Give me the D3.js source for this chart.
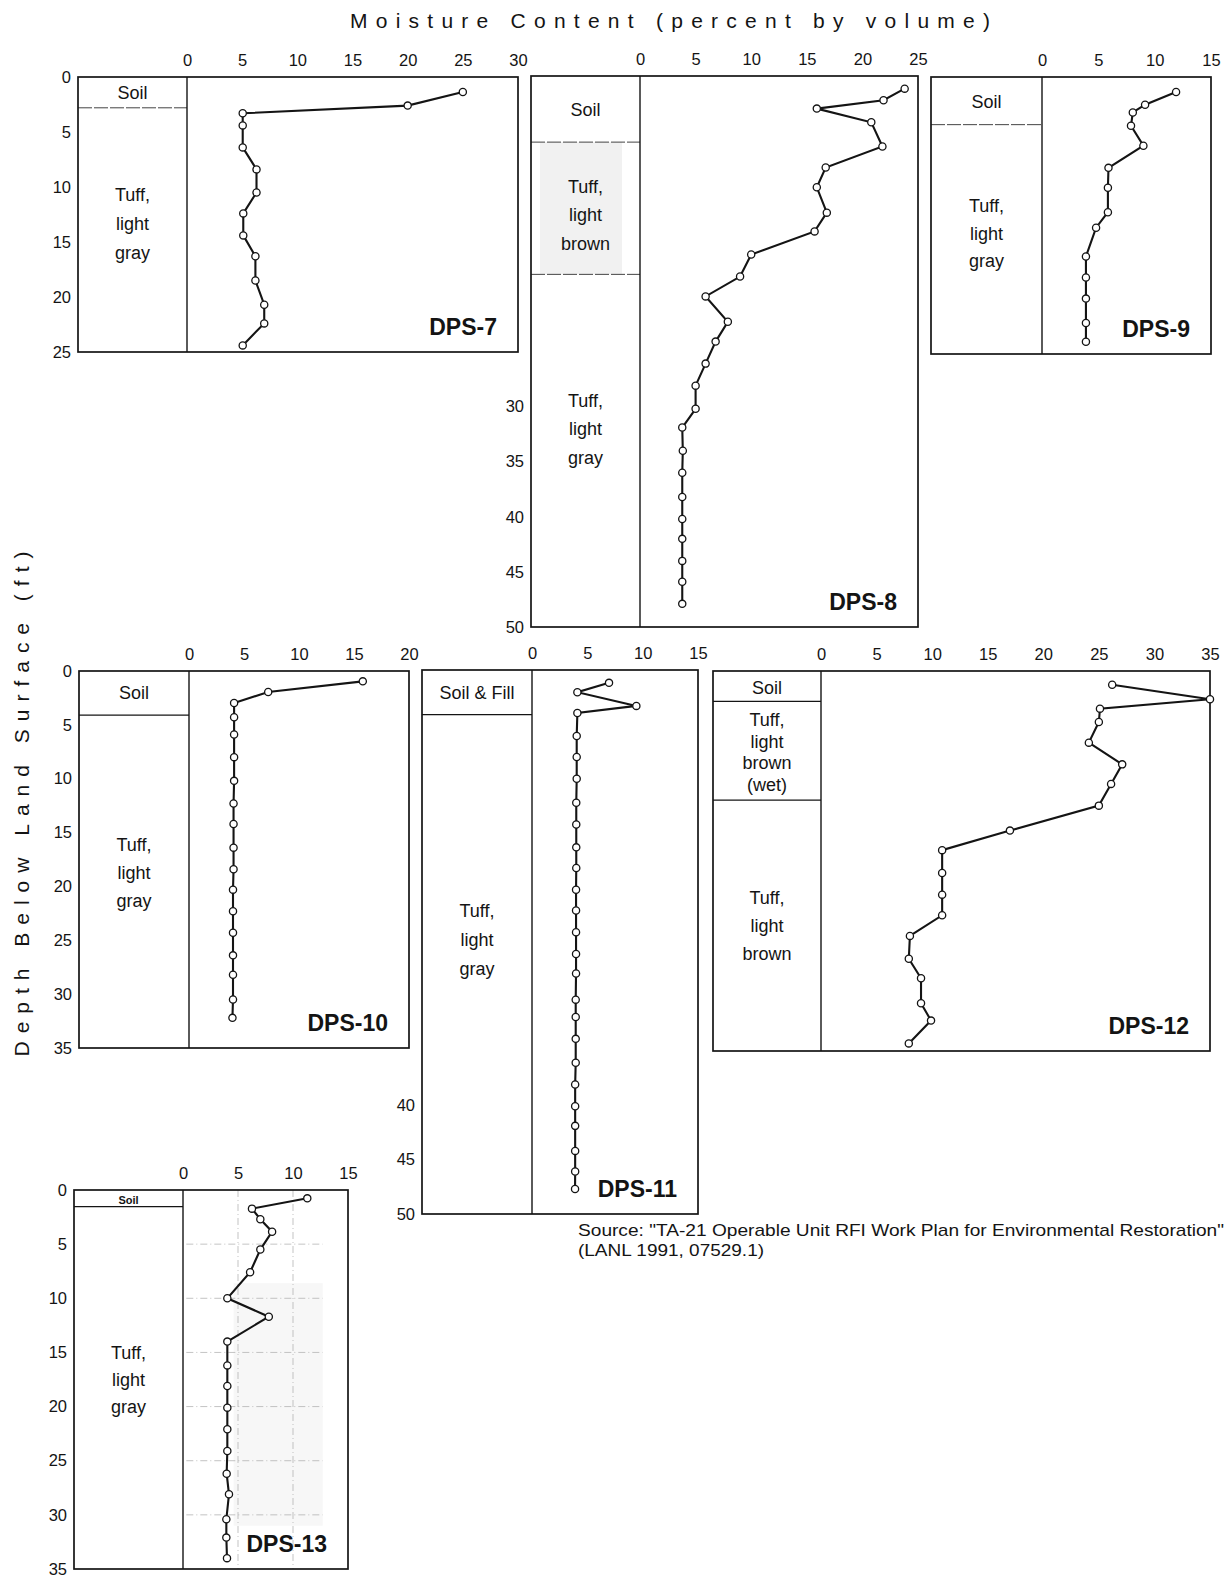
<!DOCTYPE html>
<html>
<head>
<meta charset="utf-8">
<script src="https://cdn.jsdelivr.net/npm/d3@7"></script>
<style>
	body { margin: 0; background: #fff; }
	svg { display: block; font-family: "Liberation Sans", Arial, sans-serif; }
</style>
</head>
<body>
<div id="chart"></div>
<script>
///////////////////////////////////////////////////////////////////////////
//////////////////////////// data /////////////////////////////////////////
///////////////////////////////////////////////////////////////////////////

const boreholes = ["DPS-7", "DPS-8", "DPS-9", "DPS-10", "DPS-11", "DPS-12", "DPS-13"];

// moisture (percent by volume) against depth (ft)
const dps7Depth = [1.36, 2.6, 3.3, 4.4, 6.4, 8.4, 10.5, 12.4, 14.4, 16.3, 18.5, 20.7, 22.4, 24.4];
const dps7Moisture = [25.0, 20.0, 5.05, 5.05, 5.05, 6.3, 6.3, 5.1, 5.1, 6.2, 6.2, 7.0, 7.0, 5.05];

const dps8Depth = [1.15, 2.2, 2.96, 4.2, 6.4, 8.3, 10.1, 12.4, 14.1, 16.2, 18.2, 20.0, 22.3, 24.1, 26.1, 28.1, 30.2, 31.9, 34.0, 36.0, 38.2, 40.2, 42.0, 44.0, 45.9, 47.9];
const dps8Moisture = [23.8, 21.9, 15.9, 20.8, 21.8, 16.7, 15.9, 16.8, 15.7, 10.0, 9.0, 5.9, 7.9, 6.8, 5.9, 5.0, 5.0, 3.8, 3.85, 3.8, 3.8, 3.8, 3.8, 3.8, 3.8, 3.8];

const dps9Depth = [1.35, 2.5, 3.2, 4.4, 6.2, 8.2, 10.0, 12.2, 13.6, 16.2, 18.1, 20.0, 22.2, 23.9];
const dps9Moisture = [11.9, 9.15, 8.06, 7.9, 9.0, 5.9, 5.85, 5.85, 4.8, 3.9, 3.9, 3.9, 3.9, 3.9];

const dps10Depth = [0.96, 1.95, 2.97, 4.3, 5.9, 8.0, 10.2, 12.3, 14.2, 16.4, 18.4, 20.3, 22.3, 24.3, 26.4, 28.2, 30.5, 32.2];
const dps10Moisture = [15.8, 7.2, 4.1, 4.1, 4.1, 4.1, 4.1, 4.05, 4.05, 4.05, 4.05, 4.0, 4.0, 4.0, 4.0, 4.0, 4.0, 3.95];

const dps11Depth = [1.18, 2.04, 3.3, 3.95, 6.06, 8.0, 10.0, 12.2, 14.2, 16.3, 18.2, 20.2, 22.1, 24.1, 26.1, 27.9, 30.3, 31.9, 33.9, 36.1, 38.1, 40.1, 41.9, 44.2, 46.1, 47.7];
const dps11Moisture = [6.96, 4.1, 9.43, 4.1, 4.04, 4.04, 4.04, 4.0, 4.0, 4.0, 4.0, 3.98, 3.98, 3.98, 3.98, 3.98, 3.95, 3.95, 3.95, 3.95, 3.9, 3.9, 3.9, 3.9, 3.9, 3.89];

const dps12Depth = [1.26, 2.6, 3.47, 4.7, 6.6, 8.6, 10.4, 12.4, 14.7, 16.5, 18.6, 20.6, 22.5, 24.4, 26.5, 28.3, 30.6, 32.2, 34.3];
const dps12Moisture = [26.2, 35.0, 25.1, 25.0, 24.1, 27.1, 26.1, 25.0, 17.0, 10.9, 10.9, 10.9, 10.9, 8.0, 7.9, 9.0, 9.0, 9.9, 7.9];

const dps13Depth = [0.77, 1.72, 2.7, 3.85, 5.5, 7.6, 10.0, 11.7, 14.0, 16.2, 18.1, 20.1, 22.1, 24.1, 26.2, 28.1, 30.4, 32.1, 34.0];
const dps13Moisture = [11.3, 6.27, 7.03, 8.1, 7.03, 6.1, 4.03, 7.8, 4.03, 4.03, 4.03, 4.03, 4.03, 4.03, 3.97, 4.18, 3.94, 3.94, 4.0];

// axis extents (percent, ft)
const moistureMax = [30, 25, 15, 20, 15, 35, 15];
const depthMax = [25, 50, 25, 35, 50, 35, 35];
const depthTicks = [
	[0, 5, 10, 15, 20, 25],
	[30, 35, 40, 45, 50],
	[],
	[0, 5, 10, 15, 20, 25, 30, 35],
	[40, 45, 50],
	[],
	[0, 5, 10, 15, 20, 25, 30, 35]
];

// lithology: [top, bottom] in ft + description
const dps7Layers = [[0, 2.8, ["Soil"]], [2.8, 25, ["Tuff,", "light", "gray"]]];
const dps8Layers = [[0, 6, ["Soil"]], [6, 18, ["Tuff,", "light", "brown"]], [18, 50, ["Tuff,", "light", "gray"]]];
const dps9Layers = [[0, 4.3, ["Soil"]], [4.3, 25, ["Tuff,", "light", "gray"]]];
const dps10Layers = [[0, 4.1, ["Soil"]], [4.1, 35, ["Tuff,", "light", "gray"]]];
const dps11Layers = [[0, 4.1, ["Soil & Fill"]], [4.1, 50, ["Tuff,", "light", "gray"]]];
const dps12Layers = [[0, 2.8, ["Soil"]], [2.8, 11.9, ["Tuff,", "light", "brown", "(wet)"]], [11.9, 35, ["Tuff,", "light", "brown"]]];
const dps13Layers = [[0, 1.54, ["Soil"]], [1.54, 35, ["Tuff,", "light", "gray"]]];

const depths = [dps7Depth, dps8Depth, dps9Depth, dps10Depth, dps11Depth, dps12Depth, dps13Depth];
const moistures = [dps7Moisture, dps8Moisture, dps9Moisture, dps10Moisture, dps11Moisture, dps12Moisture, dps13Moisture];
const layers = [dps7Layers, dps8Layers, dps9Layers, dps10Layers, dps11Layers, dps12Layers, dps13Layers];

///////////////////////////////////////////////////////////////////////////
//////////////////////////// layout ///////////////////////////////////////
///////////////////////////////////////////////////////////////////////////

// box: left edge, lithology divider (= 0 %), right edge, top (0 ft), bottom
// labelAt: depth of the middle text line per layer, gap: line spacing px
const layout = [
	{ box: [78, 187, 518, 77, 352], labelAt: [1.39, 13.3], gap: [0, 29] },
	{ box: [531, 640, 918, 76, 627], labelAt: [3.07, 12.6, 32.0], gap: [0, 28.5, 28.5], shade: 1 },
	{ box: [931, 1042, 1211, 77, 354], labelAt: [2.25, 14.1], gap: [0, 27.5] },
	{ box: [79, 189, 409, 671, 1048], labelAt: [2.04, 18.7], gap: [0, 28] },
	{ box: [422, 532, 698, 670, 1214], labelAt: [2.04, 24.8], gap: [0, 29] },
	{ box: [713, 821, 1210, 671, 1051], labelAt: [1.5, 7.46, 23.4], gap: [0, 21.5, 28] },
	{ box: [74, 183, 348, 1190, 1569], labelAt: [0.9, 17.5], gap: [0, 27], smallSoil: true, grid: true }
];

const width = 1230;
const height = 1583;
const ink = "#141414";

const svg = d3
	.select("#chart")
	.append("svg")
	.attr("width", width)
	.attr("height", height);

///////////////////////////////////////////////////////////////////////////
//////////////////////////// panels ///////////////////////////////////////
///////////////////////////////////////////////////////////////////////////

boreholes.forEach((name, i) => {
	const [x0, xd, x1, y0, y1] = layout[i].box;
	const L = layout[i];

	const xScale = d3.scaleLinear().domain([0, moistureMax[i]]).range([xd, x1]);
	const yScale = d3.scaleLinear().domain([0, depthMax[i]]).range([y0, y1]);

	const g = svg.append("g").attr("class", "panel");

	// light shading of the brown tuff in DPS-8
	if (L.shade) {
		const lay = layers[i][L.shade];
		g.append("rect")
			.attr("x", x0 + 9)
			.attr("y", yScale(lay[0]))
			.attr("width", xd - x0 - 27)
			.attr("height", yScale(lay[1]) - yScale(lay[0]))
			.attr("fill", "#f1f1f1");
	}

	// faint grid seen on DPS-13
	if (L.grid) {
		g.append("rect")
			.attr("x", xScale(4.6))
			.attr("y", yScale(8.6))
			.attr("width", xScale(12.7) - xScale(4.6))
			.attr("height", yScale(31) - yScale(8.6))
			.attr("fill", "#f7f7f7");
		g.selectAll(".vgrid")
			.data([5, 10])
			.enter()
			.append("line")
			.attr("x1", (d) => xScale(d))
			.attr("x2", (d) => xScale(d))
			.attr("y1", y0)
			.attr("y2", y1)
			.attr("stroke", "#b4b4b4")
			.attr("stroke-width", 0.8)
			.attr("stroke-dasharray", "7,3,1,3");
		g.selectAll(".hgrid")
			.data([5, 10, 15, 20, 25, 30])
			.enter()
			.append("line")
			.attr("x1", xScale(0.3))
			.attr("x2", xScale(12.7))
			.attr("y1", (d) => yScale(d))
			.attr("y2", (d) => yScale(d))
			.attr("stroke", "#b4b4b4")
			.attr("stroke-width", 0.8)
			.attr("stroke-dasharray", "7,3,1,3");
	}

	// layer boundaries
	g.selectAll(".boundary")
		.data(layers[i].slice(1))
		.enter()
		.append("line")
		.attr("x1", x0)
		.attr("x2", xd)
		.attr("y1", (d) => yScale(d[0]))
		.attr("y2", (d) => yScale(d[0]))
		.attr("stroke", i < 3 ? "#444" : ink)
		.attr("stroke-width", i < 3 ? 1 : 1.3)
		.attr("stroke-dasharray", i < 3 ? "14,2" : null);

	// lithology text
	layers[i].forEach((lay, k) => {
		const n = lay[2].length;
		const small = L.smallSoil && k === 0;
		g.selectAll(null)
			.data(lay[2])
			.enter()
			.append("text")
			.attr("x", (x0 + xd) / 2)
			.attr("y", (d, j) => yScale(L.labelAt[k]) + (j - (n - 1) / 2) * L.gap[k])
			.attr("dy", "0.36em")
			.attr("text-anchor", "middle")
			.attr("font-size", small ? 11 : 18)
			.attr("font-weight", small ? "bold" : null)
			.attr("fill", ink)
			.text((d) => d);
	});

	// frame
	g.append("rect")
		.attr("x", x0)
		.attr("y", y0)
		.attr("width", x1 - x0)
		.attr("height", y1 - y0)
		.attr("fill", "none")
		.attr("stroke", ink)
		.attr("stroke-width", 1.7);

	g.append("line")
		.attr("x1", xd)
		.attr("x2", xd)
		.attr("y1", y0)
		.attr("y2", y1)
		.attr("stroke", ink)
		.attr("stroke-width", 1.4);

	// axes
	const xAxis = d3
		.axisTop(xScale)
		.tickValues(d3.range(0, moistureMax[i] + 1, 5))
		.tickSize(0)
		.tickPadding(11);

	g.append("g")
		.attr("transform", `translate(0,${y0})`)
		.call(xAxis)
		.call((a) => a.select(".domain").remove())
		.selectAll("text")
		.attr("font-size", 16.5)
		.attr("font-family", "Liberation Sans, Arial, sans-serif")
		.attr("fill", ink);

	if (depthTicks[i].length) {
		const yAxis = d3.axisLeft(yScale).tickValues(depthTicks[i]).tickSize(0).tickPadding(7);
		g.append("g")
			.attr("transform", `translate(${x0},0)`)
			.call(yAxis)
			.call((a) => a.select(".domain").remove())
			.selectAll("text")
			.attr("font-size", 16.5)
			.attr("font-family", "Liberation Sans, Arial, sans-serif")
			.attr("fill", ink);
	}

	// profile
	const pts = depths[i].map((d, j) => ({ depth: d, m: moistures[i][j] }));

	const line = d3
		.line()
		.x((d) => xScale(d.m))
		.y((d) => yScale(d.depth));

	g.append("path")
		.datum(pts)
		.attr("d", line)
		.attr("fill", "none")
		.attr("stroke", ink)
		.attr("stroke-width", 2.1);

	g.selectAll(".dots")
		.data(pts)
		.enter()
		.append("circle")
		.attr("cx", (d) => xScale(d.m))
		.attr("cy", (d) => yScale(d.depth))
		.attr("r", 3.6)
		.attr("fill", "#fff")
		.attr("stroke", ink)
		.attr("stroke-width", 1.3);

	// borehole name
	g.append("text")
		.attr("x", x1 - 21)
		.attr("y", y1 - 17)
		.attr("text-anchor", "end")
		.attr("font-size", 23)
		.attr("font-weight", "bold")
		.attr("fill", ink)
		.text(name);
});

///////////////////////////////////////////////////////////////////////////
//////////////////////////// titles ///////////////////////////////////////
///////////////////////////////////////////////////////////////////////////

svg.append("text")
	.attr("x", 350)
	.attr("y", 28)
	.attr("font-size", 21)
	.attr("textLength", 640)
	.attr("lengthAdjust", "spacing")
	.attr("fill", ink)
	.text("Moisture Content (percent by volume)");

svg.append("text")
	.attr("transform", "translate(29,804) rotate(-90)")
	.attr("text-anchor", "middle")
	.attr("font-size", 21)
	.attr("textLength", 505)
	.attr("lengthAdjust", "spacing")
	.attr("fill", ink)
	.text("Depth Below Land Surface (ft)");

const sourceLines = [
	"Source: \"TA-21 Operable Unit RFI Work Plan for Environmental Restoration\"",
	"(LANL 1991, 07529.1)"
];
const sourceWidths = [646, 186];

svg.selectAll(".source")
	.data(sourceLines)
	.enter()
	.append("text")
	.attr("class", "source")
	.attr("x", 578)
	.attr("y", (d, i) => 1236 + i * 20)
	.attr("font-size", 17)
	.attr("textLength", (d, i) => sourceWidths[i])
	.attr("lengthAdjust", "spacingAndGlyphs")
	.attr("fill", ink)
	.text((d) => d);
</script>
</body>
</html>
